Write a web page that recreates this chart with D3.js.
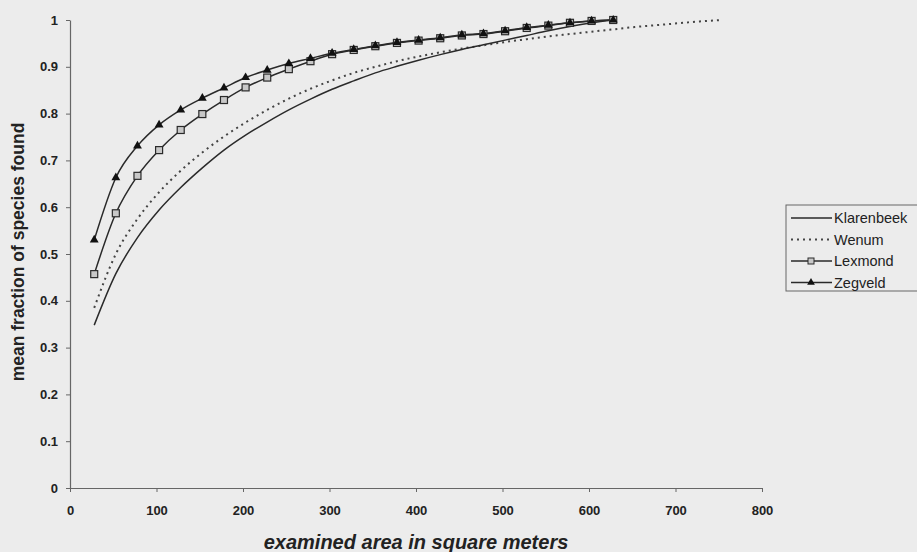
<!DOCTYPE html>
<html>
<head>
<meta charset="utf-8">
<script src="https://cdn.jsdelivr.net/npm/d3@7"></script>
<style>
body { margin: 0; background: #ececec; }
svg { display: block; }
text { font-family: "Liberation Sans", Arial, sans-serif; fill: #222; }
</style>
</head>
<body>
<svg id="chart"></svg>
<script>
// examined area per step (square meters)
var areas = [28, 53, 78, 103, 128, 153, 178, 203, 228, 253, 278, 303, 328,
  353, 378, 403, 428, 453, 478, 503, 528, 553, 578, 603, 628];
var wenumAreas = [28, 53, 78, 103, 128, 153, 178, 203, 228, 253, 278, 303, 328,
  353, 378, 403, 428, 453, 478, 503, 528, 553, 578, 603, 628, 653, 678, 703, 728, 753];

// mean fraction of species found
var klarenbeek = [0.348, 0.458, 0.535, 0.594, 0.642, 0.684, 0.722, 0.754, 0.782,
  0.808, 0.831, 0.852, 0.870, 0.887, 0.901, 0.914, 0.926, 0.937, 0.947, 0.957,
  0.967, 0.977, 0.986, 0.994, 1.0];
var wenum = [0.385, 0.500, 0.575, 0.632, 0.678, 0.717, 0.751, 0.781, 0.808,
  0.832, 0.853, 0.871, 0.887, 0.900, 0.912, 0.922, 0.931, 0.939, 0.946, 0.953,
  0.959, 0.965, 0.970, 0.975, 0.980, 0.985, 0.989, 0.993, 0.997, 1.0];
var lexmond = [0.457, 0.587, 0.667, 0.722, 0.765, 0.799, 0.829, 0.856, 0.877,
  0.895, 0.912, 0.927, 0.936, 0.944, 0.951, 0.956, 0.961, 0.967, 0.970, 0.976,
  0.983, 0.988, 0.994, 0.998, 1.0];
var zegveld = [0.530, 0.663, 0.731, 0.776, 0.808, 0.833, 0.855, 0.877, 0.893,
  0.907, 0.918, 0.929, 0.937, 0.945, 0.952, 0.957, 0.962, 0.968, 0.971, 0.977,
  0.984, 0.989, 0.994, 0.998, 1.0];

var xTicks = [0, 100, 200, 300, 400, 500, 600, 700, 800];
var yTicks = [0, 0.1, 0.2, 0.3, 0.4, 0.5, 0.6, 0.7, 0.8, 0.9, 1];
var seriesNames = ['Klarenbeek', 'Wenum', 'Lexmond', 'Zegveld'];

var width = 917;
var height = 552;
var ink = '#2a2a2a';

var svg = d3.select('#chart')
  .attr('width', width)
  .attr('height', height);

var x = d3.scaleLinear().domain([0, 800]).range([70, 762]);
var y = d3.scaleLinear().domain([0, 1]).range([488, 20]);

function zip(xs, ys) {
  return ys.map(function(v, i) { return {a: xs[i], v: v}; });
}

// axes
var xAxis = svg.append('g')
  .attr('transform', 'translate(0,' + y(0) + ')')
  .call(d3.axisBottom(x).tickValues(xTicks).tickSize(4).tickSizeOuter(0).tickPadding(14)
    .tickFormat(function(d) { return String(d); }));
var yAxis = svg.append('g')
  .attr('transform', 'translate(' + x(0) + ',0)')
  .call(d3.axisLeft(y).tickValues(yTicks).tickSize(4).tickSizeOuter(0).tickPadding(8)
    .tickFormat(function(d) { return String(d); }));

[xAxis, yAxis].forEach(function(g) {
  g.select('.domain').attr('stroke', '#666').attr('stroke-width', 1.2);
  g.selectAll('.tick line').attr('stroke', '#666');
  g.selectAll('.tick text')
    .attr('fill', '#222')
    .style('font-family', '"Liberation Sans", Arial, sans-serif')
    .style('font-size', '13px')
    .style('font-weight', 'bold');
});

// axis titles
svg.append('text')
  .attr('x', 416)
  .attr('y', 549)
  .attr('text-anchor', 'middle')
  .style('font-size', '20px')
  .style('font-weight', 'bold')
  .style('font-style', 'italic')
  .text('examined area in square meters');
svg.append('text')
  .attr('transform', 'translate(24,' + 252 + ') rotate(-90)')
  .attr('text-anchor', 'middle')
  .style('font-size', '17.5px')
  .style('font-weight', 'bold')
  .text('mean fraction of species found');

// lines
var line = d3.line()
  .x(function(d) { return x(d.a); })
  .y(function(d) { return y(d.v); })
  .curve(d3.curveMonotoneX);

svg.append('path')
  .datum(zip(wenumAreas, wenum))
  .attr('d', line)
  .attr('fill', 'none')
  .attr('stroke', '#444')
  .attr('stroke-width', 2)
  .attr('stroke-dasharray', '2,4');

svg.append('path')
  .datum(zip(areas, klarenbeek))
  .attr('d', line)
  .attr('fill', 'none')
  .attr('stroke', ink)
  .attr('stroke-width', 1.5);

svg.append('path')
  .datum(zip(areas, lexmond))
  .attr('d', line)
  .attr('fill', 'none')
  .attr('stroke', ink)
  .attr('stroke-width', 1.5);

svg.append('path')
  .datum(zip(areas, zegveld))
  .attr('d', line)
  .attr('fill', 'none')
  .attr('stroke', ink)
  .attr('stroke-width', 1.5);

// markers
svg.selectAll('rect.lexmond')
  .data(zip(areas, lexmond))
  .enter()
  .append('rect')
    .classed('lexmond', true)
    .attr('x', function(d) { return x(d.a) - 3.5; })
    .attr('y', function(d) { return y(d.v) - 3.5; })
    .attr('width', 7)
    .attr('height', 7)
    .attr('fill', '#c8c8c8')
    .attr('stroke', ink)
    .attr('stroke-width', 1.2);

var tri = d3.symbol().type(d3.symbolTriangle).size(34);
svg.selectAll('path.zegveld')
  .data(zip(areas, zegveld))
  .enter()
  .append('path')
    .classed('zegveld', true)
    .attr('d', tri)
    .attr('transform', function(d) { return 'translate(' + x(d.a) + ',' + y(d.v) + ')'; })
    .attr('fill', '#111');

// legend
var legend = svg.append('g');
legend.append('rect')
  .attr('x', 786)
  .attr('y', 205)
  .attr('width', 140)
  .attr('height', 86)
  .attr('fill', 'none')
  .attr('stroke', '#666')
  .attr('stroke-width', 1);

seriesNames.forEach(function(name, i) {
  var ly = 218 + i * 21.5;
  var l = legend.append('line')
    .attr('x1', 791)
    .attr('x2', 832)
    .attr('y1', ly)
    .attr('y2', ly)
    .attr('stroke', i === 1 ? '#444' : ink)
    .attr('stroke-width', i === 1 ? 2 : 1.5);
  if (i === 1) l.attr('stroke-dasharray', '2,4');
  if (i === 2) {
    legend.append('rect')
      .attr('x', 808).attr('y', ly - 3)
      .attr('width', 6).attr('height', 6)
      .attr('fill', '#c8c8c8').attr('stroke', ink);
  }
  if (i === 3) {
    legend.append('path')
      .attr('d', d3.symbol().type(d3.symbolTriangle).size(26)())
      .attr('transform', 'translate(811,' + ly + ')')
      .attr('fill', '#111');
  }
  legend.append('text')
    .attr('x', 834)
    .attr('y', ly + 5)
    .style('font-size', '14.5px')
    .text(name);
});
</script>
</body>
</html>
